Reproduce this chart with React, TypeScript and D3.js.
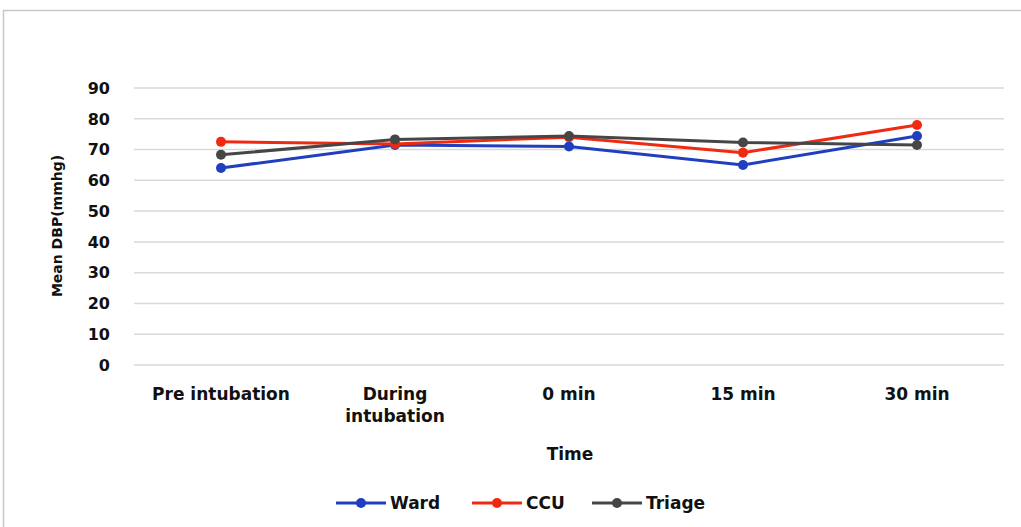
import React from "react";
import * as d3 from "d3";

const categories = ["Pre intubation", "During intubation", "0 min", "15 min", "30 min"];
const ward = [64, 71.5, 71, 65, 74.4];
const ccu = [72.5, 71.8, 74, 69, 78];
const triage = [68.3, 73.3, 74.4, 72.3, 71.5];
const yTicks = [0, 10, 20, 30, 40, 50, 60, 70, 80, 90];

const series = [
  { name: "Ward", values: ward, color: "#1f3fbf" },
  { name: "CCU", values: ccu, color: "#f02a10" },
  { name: "Triage", values: triage, color: "#464646" },
];

const W = 1021;
const H = 527;
const font = "'DejaVu Sans', sans-serif";

export default function App() {
  const x = d3.scaleBand().domain(categories).range([134, 1004]);
  const y = d3.scaleLinear().domain([0, 90]).range([365, 88]);
  const cx = (i: number) => x(categories[i])! + x.bandwidth() / 2;
  const line = d3
    .line<number>()
    .x((_, i) => cx(i))
    .y((d) => y(d));

  const legendX = [336, 472, 592];

  return (
    <div style={{ position: "absolute", left: 0, top: 0 }}>
      <svg width={W} height={H} style={{ display: "block", background: "#fff" }}>
        <rect x={3.5} y={10.5} width={W + 10} height={H + 10} fill="none" stroke="#c8c8c8" strokeWidth={1.5} />
        {yTicks.map((t) => (
          <g key={t}>
            <line x1={134} x2={1004} y1={y(t)} y2={y(t)} stroke="#d9d9d9" strokeWidth={1.5} />
            <text x={110} y={y(t)} dy="0.36em" textAnchor="end" fontFamily={font} fontWeight={700} fontSize={16} fill="#111">
              {t}
            </text>
          </g>
        ))}
        {categories.map((c, ci) => {
          const parts = c === "During intubation" ? ["During", "intubation"] : [c];
          return (
            <text key={c} x={cx(ci)} y={400} textAnchor="middle" fontFamily={font} fontWeight={700} fontSize={17} fill="#111">
              {parts.map((p, i) => (
                <tspan key={p} x={cx(ci)} dy={i === 0 ? 0 : 22}>
                  {p}
                </tspan>
              ))}
            </text>
          );
        })}
        <text x={570} y={460} textAnchor="middle" fontFamily={font} fontWeight={700} fontSize={17} fill="#111">
          Time
        </text>
        <text
          transform="translate(62,226) rotate(-90)"
          textAnchor="middle"
          fontFamily={font}
          fontWeight={700}
          fontSize={14}
          fill="#111"
        >
          Mean DBP(mmhg)
        </text>
        {series.map((s) => (
          <g key={s.name}>
            <path d={line(s.values)!} fill="none" stroke={s.color} strokeWidth={3} />
            {s.values.map((v, i) => (
              <circle key={i} cx={cx(i)} cy={y(v)} r={5} fill={s.color} />
            ))}
          </g>
        ))}
        {series.map((s, i) => (
          <g key={s.name} transform={`translate(${legendX[i]},503)`}>
            <line x1={0} x2={50} stroke={s.color} strokeWidth={3} />
            <circle cx={25} cy={0} r={5} fill={s.color} />
            <text x={54} dy="0.36em" fontFamily={font} fontWeight={700} fontSize={17} fill="#111">
              {s.name}
            </text>
          </g>
        ))}
      </svg>
    </div>
  );
}
